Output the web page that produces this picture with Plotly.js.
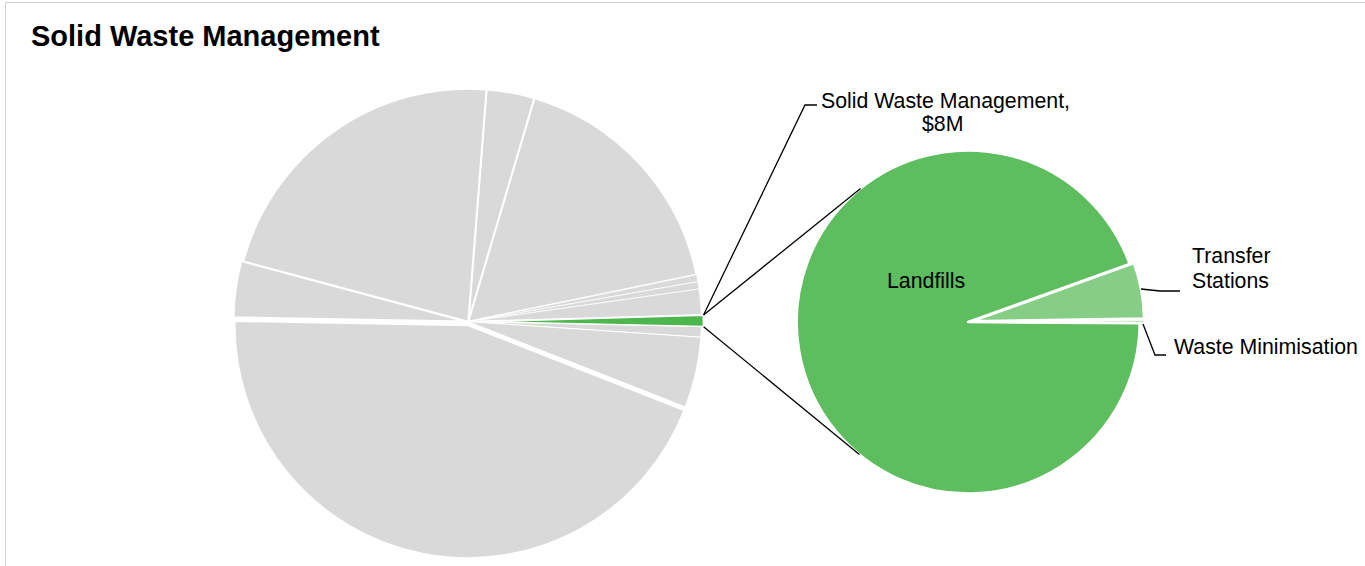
<!DOCTYPE html>
<html>
<head>
<meta charset="utf-8">
<script src="https://cdn.plot.ly/plotly-3.0.1.min.js"></script>
<style>
  html, body { margin: 0; padding: 0; background: #ffffff; }
  #chart { width: 1365px; height: 566px; }
</style>
</head>
<body>
<div id="chart"></div>
<script>
// ---- Data ($M) ----
const budgetLabels = [
  "Other activity A", "Other activity B", "Other activity C", "Other activity D",
  "Other activity E", "Solid Waste Management", "Other activity F", "Other activity G",
  "Other activity H", "Other activity I", "Other activity J"
];
const budgetValues = [33.7, 173.7, 4.8, 5.1, 18.1, 8.0, 7.3, 49.4, 447.9, 39.3, 223.1];
const focusLabel = "Solid Waste Management";
const focusText = ["Solid Waste Management,", "$8M"];

const swmLabels = ["Transfer Stations", "Waste Minimisation", "Landfills"];
const swmValues = [0.42, 0.03, 7.55];

// ---- Layout helpers (pixel -> paper, margins are zero) ----
const W = 1365, H = 566;
const px = x => x / W;
const py = y => 1 - y / H;

const GRAY = "#D9D9D9";
const leftColors = budgetLabels.map(l => l === focusLabel ? "#4DB64D" : GRAY);
const leftPull = budgetLabels.map((l, i) => l === focusLabel ? 0.01 : (i === 8 ? 0.015 : (i === 9 ? 0.008 : 0)));
const leftLineW = [2, 2, 0.8, 0.8, 0.8, 2, 1, 1, 2, 2, 2];
const rightColors = ["#86CE86", "#BDE5BD", "#5EBD5E"];
const rightPull = [0.026, 0.03, 0];

// pie geometry (pixel)
const L = {cx: 468.3, cy: 321.7, r: 233, rot: 4.5};
const R = {cx: 968.2, cy: 322, r: 171.5, rot: 70.2};
function dom(g, pulls) {
  const mp = Math.max(...pulls);
  const h = g.r * (1 + mp);
  return {x: [px(g.cx - h), px(g.cx + h)], y: [py(g.cy + h), py(g.cy - h)]};
}

const traces = [
  {
    type: "pie", labels: budgetLabels, values: budgetValues, sort: false,
    direction: "clockwise", rotation: L.rot, pull: leftPull,
    marker: {colors: leftColors, line: {color: "#ffffff", width: leftLineW}},
    textinfo: "none", hoverinfo: "label+value", domain: dom(L, leftPull), showlegend: false
  },
  {
    type: "pie", labels: swmLabels, values: swmValues, sort: false,
    direction: "clockwise", rotation: R.rot, pull: rightPull,
    marker: {colors: rightColors, line: {color: "#ffffff", width: 2.5}},
    textinfo: "none", hoverinfo: "label+value", domain: dom(R, rightPull), showlegend: false
  }
];

// focus slice edge points, computed from data
const total = budgetValues.reduce((a, b) => a + b, 0);
const fi = budgetLabels.indexOf(focusLabel);
let before = 0;
for (let i = 0; i < fi; i++) before += budgetValues[i];
const a0 = (L.rot + before / total * 360) * Math.PI / 180;
const a1 = (L.rot + (before + budgetValues[fi]) / total * 360) * Math.PI / 180;
const amid = (a0 + a1) / 2;
const pullPx = leftPull[fi] * L.r;
const ocx = L.cx + pullPx * Math.sin(amid), ocy = L.cy - pullPx * Math.cos(amid);
const p0 = [ocx + L.r * Math.sin(a0), ocy - L.r * Math.cos(a0)];
const p1 = [ocx + L.r * Math.sin(a1), ocy - L.r * Math.cos(a1)];

// tangent point from external point to right circle
function tangent(p, upper) {
  const dx = p[0] - R.cx, dy = p[1] - R.cy;
  const d = Math.hypot(dx, dy);
  const base = Math.atan2(dy, dx);
  const t = Math.acos(R.r / d);
  const ang = base + (upper ? t : -t);
  return [R.cx + R.r * Math.cos(ang), R.cy + R.r * Math.sin(ang)];
}
const t0 = tangent(p0, true);
const t1 = tangent(p1, false);

function seg(pts, w) {
  let path = "M " + pts.map(p => px(p[0]) + "," + py(p[1])).join(" L ");
  return {type: "path", xref: "paper", yref: "paper", path: path,
          line: {color: "#000000", width: w || 1.3}};
}

const shapes = [
  // frame
  {type: "rect", xref: "paper", yref: "paper", x0: px(5.5), x1: px(1400), y0: py(600), y1: py(2.5),
   line: {color: "#D0D0D0", width: 1}, fillcolor: "rgba(0,0,0,0)", layer: "below"},
  seg([p0, t0]),
  seg([p1, t1]),
  seg([p0, [805, 105], [817, 105]]),
  seg([[1141, 289], [1160, 291], [1180, 291]]),
  seg([[1143, 324], [1155, 355], [1166, 355]])
];

const FONT = "Liberation Sans, Arial, sans-serif";
function ann(text, x, y, xanchor) {
  return {text: text, x: px(x), y: py(y), xref: "paper", yref: "paper",
          xanchor: xanchor || "center", yanchor: "middle", showarrow: false,
          font: {family: FONT, size: 21.3, color: "#000000"}};
}
const annotations = [
  ann(focusText[0], 945, 101),
  ann(focusText[1], 942, 124),
  ann("Transfer", 1231, 256),
  ann("Stations", 1230, 281),
  ann("Waste Minimisation", 1172, 347, "left"),
  ann("Landfills", 926, 281)
];

const layout = {
  width: W, height: H,
  margin: {l: 0, r: 0, t: 0, b: 0},
  paper_bgcolor: "#ffffff",
  title: {text: "<b>Solid Waste Management</b>", x: px(31), xanchor: "left", xref: "container",
          y: py(36), yanchor: "middle", yref: "container",
          font: {family: FONT, size: 29, color: "#000000"}},
  shapes: shapes,
  annotations: annotations,
  showlegend: false
};

Plotly.newPlot("chart", traces, layout, {displayModeBar: false, staticPlot: true});
</script>
</body>
</html>
